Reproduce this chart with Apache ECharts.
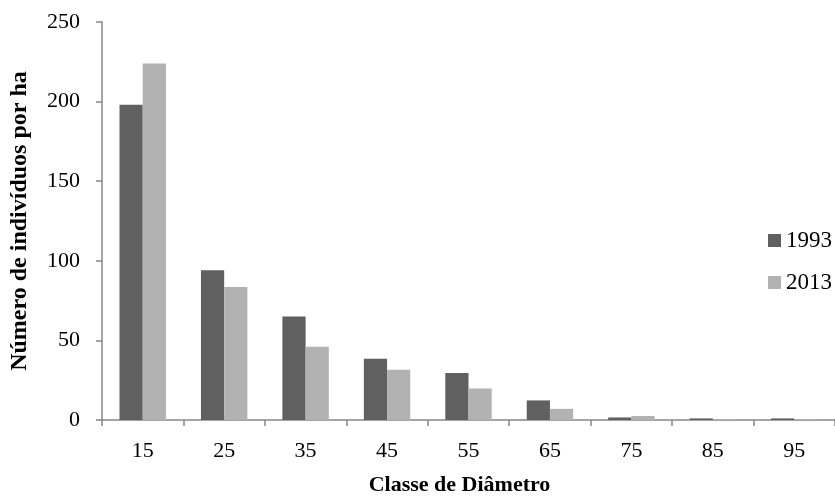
<!DOCTYPE html>
<html>
<head>
<meta charset="utf-8">
<script src="https://cdn.jsdelivr.net/npm/echarts@6/dist/echarts.min.js"></script>
<style>
html,body{margin:0;padding:0;background:#fff;}
#chart{width:835px;height:501px;}
</style>
</head>
<body>
<div id="chart"></div>
<script>
const categories = ['15','25','35','45','55','65','75','85','95'];
const values1993 = [198, 94, 65, 38.5, 29.5, 12.3, 1.6, 1, 1];
const values2013 = [224, 83.5, 46, 31.5, 19.8, 7, 2.5, 0.5, 0.6];
const seriesNames = ['1993', '2013'];
const yTicks = {min: 0, max: 250, interval: 50};

const chart = echarts.init(document.getElementById('chart'));
const font = 'Liberation Serif';
chart.setOption({
  animation: false,
  backgroundColor: '#ffffff',
  textStyle: {fontFamily: font},
  grid: {left: 99, top: 22, bottom: 75, width: 746, containLabel: false},
  legend: {
    orient: 'vertical',
    left: 768,
    top: 229,
    padding: 0,
    itemWidth: 13,
    itemHeight: 13,
    itemGap: 19,
    icon: 'rect',
    data: seriesNames,
    textStyle: {fontFamily: font, fontSize: 23, color: '#000'}
  },
  xAxis: {
    type: 'category',
    data: categories,
    name: 'Classe de Diâmetro',
    nameLocation: 'middle',
    nameGap: 54,
    nameTextStyle: {fontFamily: font, fontSize: 22, fontWeight: 'bold', color: '#000', padding: [0, 18, 0, 0]},
    axisLine: {lineStyle: {color: '#868686', width: 1.5}},
    axisTick: {show: true, interval: 0, alignWithLabel: false, length: 6, lineStyle: {color: '#868686', width: 1.5}},
    axisLabel: {fontFamily: font, fontSize: 22, color: '#000', margin: 20, interval: 0},
    splitLine: {show: false}
  },
  yAxis: {
    type: 'value',
    min: yTicks.min, max: yTicks.max, interval: yTicks.interval,
    name: 'Número de indivíduos por ha',
    nameLocation: 'middle',
    nameGap: 70,
    nameTextStyle: {fontFamily: font, fontSize: 24, fontWeight: 'bold', color: '#000'},
    axisLine: {show: true, lineStyle: {color: '#868686', width: 1.5}},
    axisTick: {show: true, length: 6, lineStyle: {color: '#868686', width: 1.5}},
    axisLabel: {fontFamily: font, fontSize: 22, color: '#000', margin: 22},
    splitLine: {show: false}
  },
  series: [
    {name: seriesNames[0], type: 'bar', data: values1993, barGap: '0%', barCategoryGap: '43%',
     itemStyle: {color: '#606060'}},
    {name: seriesNames[1], type: 'bar', data: values2013, barGap: '0%', barCategoryGap: '43%',
     itemStyle: {color: '#b2b2b2'}}
  ]
});
</script>
</body>
</html>
